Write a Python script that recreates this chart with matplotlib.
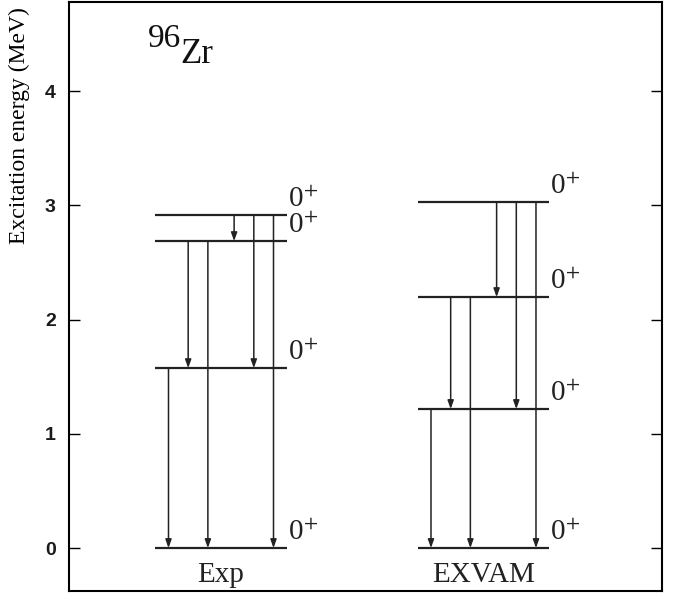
import matplotlib.pyplot as plt
import numpy as np

# level energies (MeV)
exp_levels = [0.0, 1.575, 2.687, 2.915]
exvam_levels = [0.0, 1.217, 2.197, 3.028]
columns = ['Exp', 'EXVAM']
# transitions: (from level index, to level index)
transitions = [(1, 0), (2, 1), (2, 0), (3, 2), (3, 1), (3, 0)]
arrow_offsets = [-0.2, -0.125, -0.05, 0.05, 0.125, 0.2]
spin = r'0$^{+}$'

plt.rcParams['mathtext.fontset'] = 'stix'
fig = plt.figure(figsize=(6.8, 5.96), dpi=100)
ax = fig.add_axes([0.1015, 0.0084, 0.872, 0.9882])

hw = 0.25
for i, levels in enumerate([exp_levels, exvam_levels]):
    xc = i + 1
    for e in levels:
        ax.plot([xc - hw, xc + hw], [e, e], color='#222222', lw=1.6, solid_capstyle='butt')
        ax.text(xc + hw + 0.005, e + 0.015, spin, fontsize=21, family='Liberation Serif',
                ha='left', va='bottom', color='#222222')
    for (a, b), dx in zip(transitions, arrow_offsets):
        ax.annotate('', xy=(xc + dx, levels[b]), xytext=(xc + dx, levels[a]),
                    arrowprops=dict(arrowstyle='-|>,head_length=0.5,head_width=0.18',
                                    color='#222222', lw=1.1, shrinkA=0, shrinkB=0))
    ax.text(xc, -0.24, columns[i], fontsize=21, family='Liberation Serif',
            ha='center', va='center', color='#222222')

ax.text(0.72, 4.385, '96', fontsize=24, family='Liberation Serif',
        ha='left', va='baseline', color='#111111')
ax.text(0.846, 4.245, 'Zr', fontsize=25, family='Liberation Serif',
        ha='left', va='baseline', color='#111111')

ax.set_xlim(0.421, 2.68)
ax.set_ylim(-0.376, 4.78)
ax.set_xticks([])
ax.set_yticks([0, 1, 2, 3, 4])
ax.tick_params(axis='y', direction='in', right=True, length=8, width=1, pad=9.5,
               labelsize=14, labelcolor='#1a1a1a')
for lab in ax.get_yticklabels():
    lab.set_fontweight('bold')
    lab.set_family('Liberation Sans')
for s in ax.spines.values():
    s.set_linewidth(1.5)
ax.set_ylabel('Excitation energy (MeV)', fontsize=17, family='Liberation Serif')
ax.yaxis.set_label_coords(-0.066, 0.79)

fig.savefig('out.png', dpi=100)
